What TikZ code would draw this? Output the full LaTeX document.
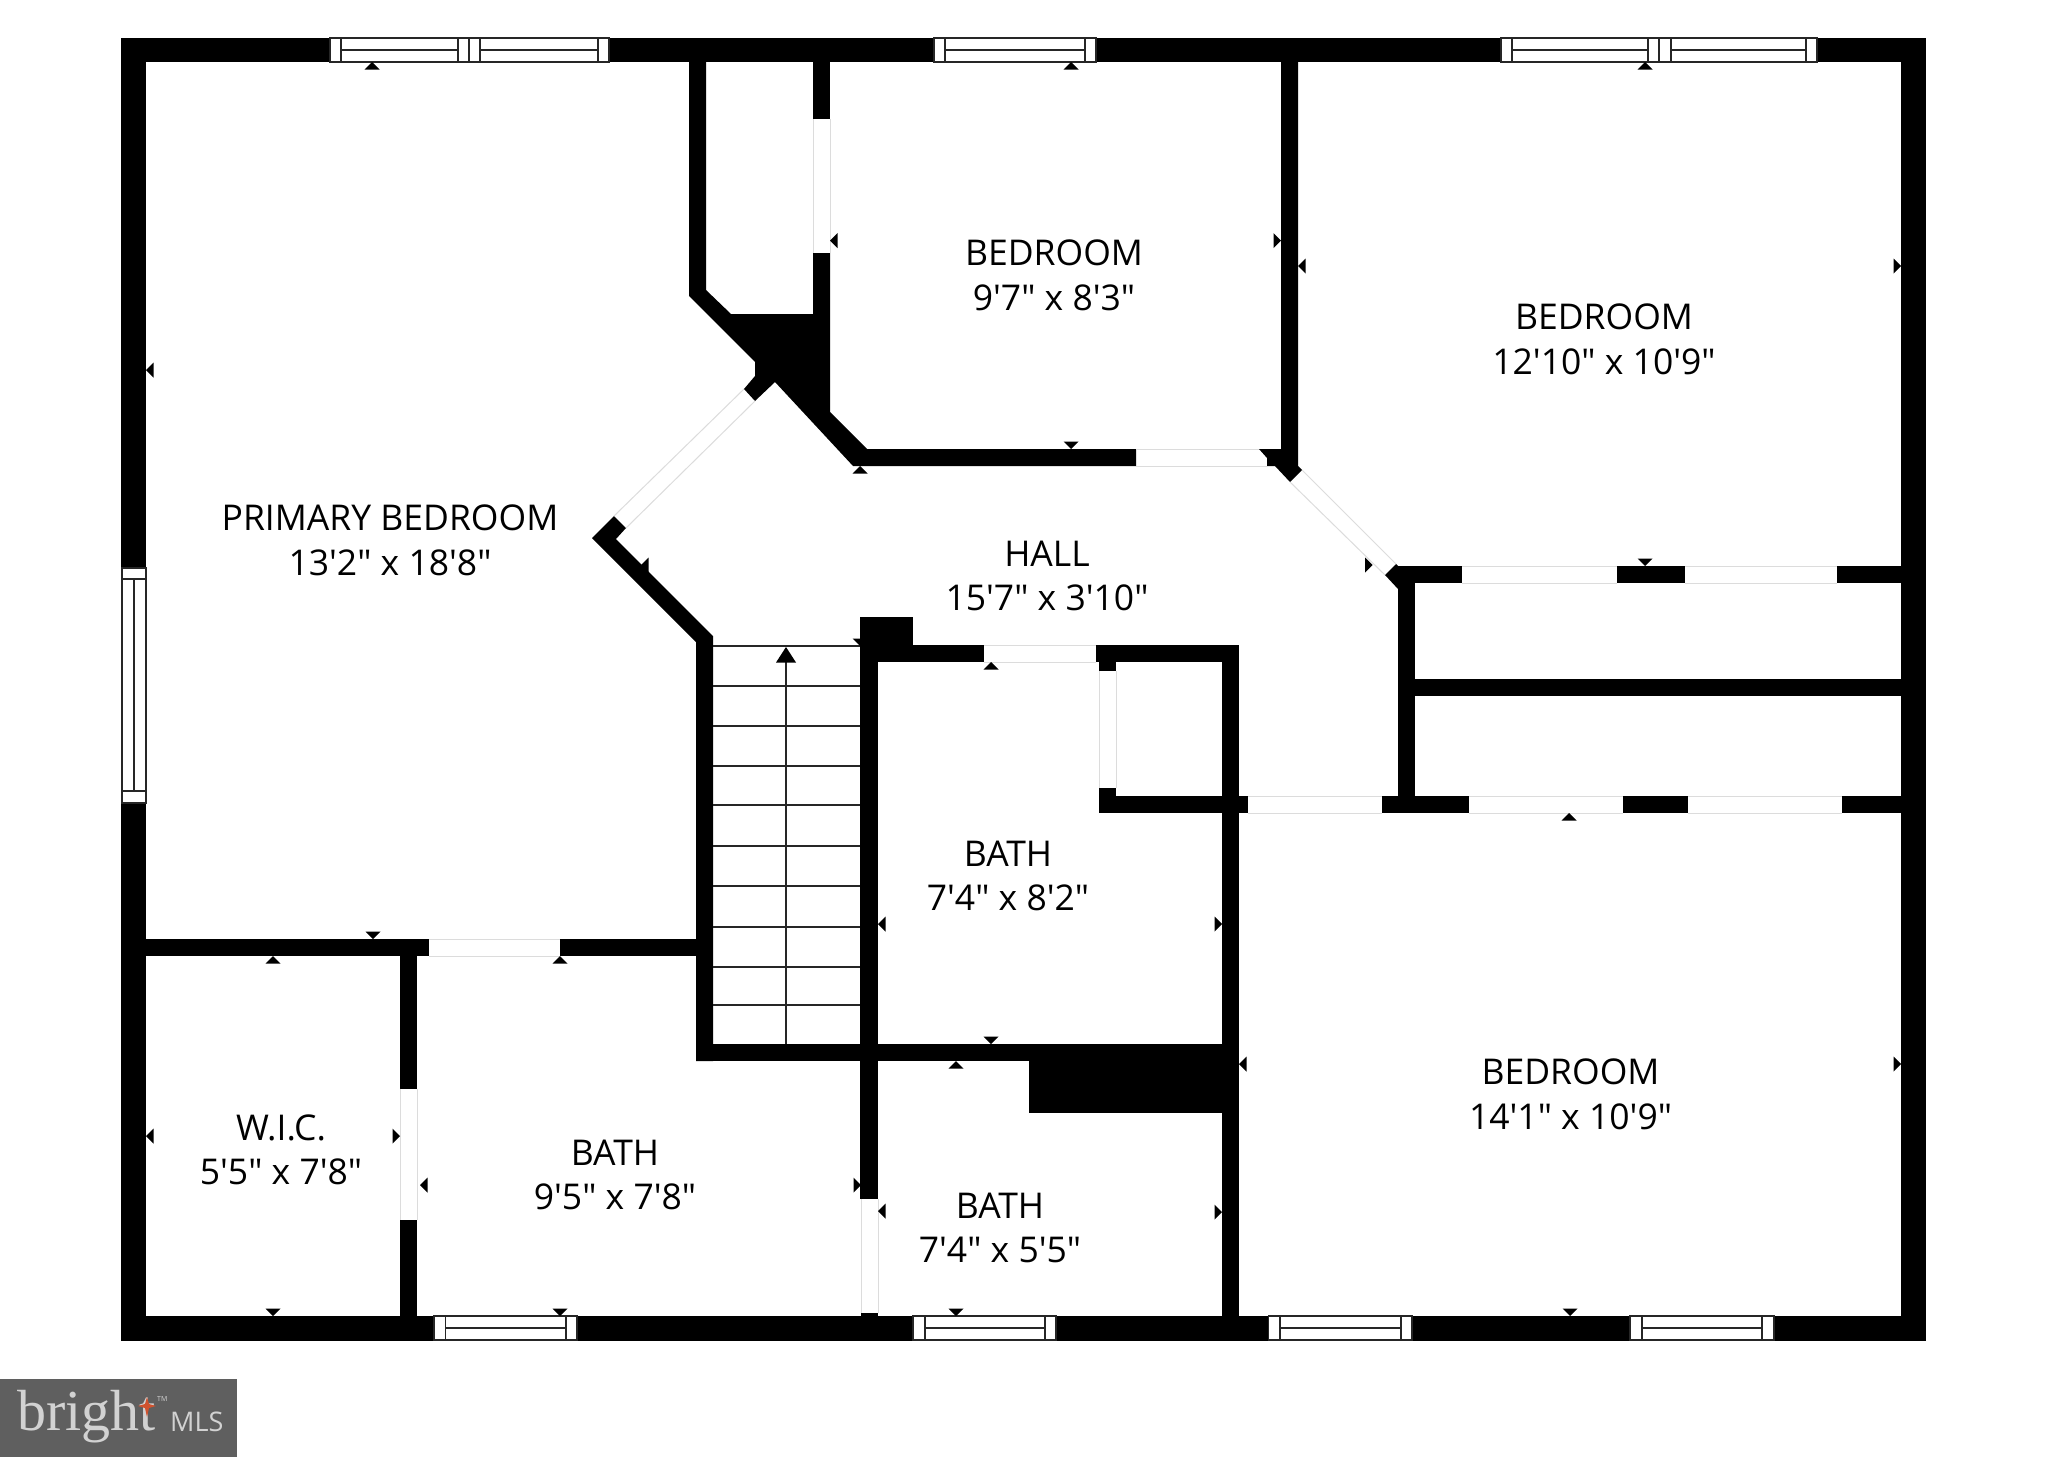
\documentclass[tikz,border=0pt]{standalone}
\usepackage{fontspec}
\newfontfamily\roomfont{Open Sans}
\newfontfamily\logoserif{Liberation Serif}
\newfontfamily\logosans{Open Sans}
\definecolor{doorline}{HTML}{DCDCDC}
\definecolor{logobg}{HTML}{5F5F5F}
\definecolor{logotext}{HTML}{D2D2D2}
\definecolor{logostar}{HTML}{D0522E}
\tikzset{
  wall/.style={fill=black,draw=none},
  doorgap/.style={draw=doorline,line width=1pt},
  winframe/.style={fill=white,draw=black!85,line width=1.5pt},
  winbar/.style={draw=black!85,line width=1.5pt},
  tread/.style={draw=black!85,line width=1.5pt},
  room/.style={font=\roomfont\fontsize{35.5}{44.6}\selectfont,align=center,inner sep=0pt,text=black},
}
\newcommand{\winH}[6]{% x1 s1 s2 x2 ytop ybottom
  \draw[winframe] (#1,#5) rectangle (#4,#6);
  \draw[winbar] (#2,#5) -- (#2,#6) (#3,#5) -- (#3,#6) (#2,{(#5+#6)/2}) -- (#3,{(#5+#6)/2});
}
\begin{document}
\begin{tikzpicture}[x=1pt,y=-1pt]
\useasboundingbox (0,0) rectangle (2047,1457);
\fill[white] (0,0) rectangle (2047,1457);
% outer walls
\fill[wall] (121,38) rectangle (1926,62);
\fill[wall] (121,38) rectangle (146,1341);
\fill[wall] (1901,38) rectangle (1926,1341);
\fill[wall] (121,1316) rectangle (1926,1341);
% primary / wic / bath
\fill[wall] (146,939) rectangle (429,956);
\fill[wall] (560,939) rectangle (713,956);
\fill[wall] (400,956) rectangle (417,1088.5);
\fill[wall] (400,1220) rectangle (417,1316);
% closet, chimney block and hall upper wall
\fill[wall] (689,62) -- (706,62) -- (706,290) -- (731,314) -- (813,314) -- (813,253) -- (830,253) -- (830,412) -- (867,449) -- (1136,449) -- (1136,466) -- (853,466) -- (775,382) -- (755,401) -- (744,389) -- (755,376) -- (755,362) -- (689,296) -- cycle;
\fill[wall] (813,62) rectangle (830,119);
% stair left wall with diagonal
\fill[wall] (592,538) -- (614,516) -- (626,528) -- (616,539) -- (713,636) -- (713,1061) -- (696,1061) -- (696,642) -- cycle;
% stair bottom, block
\fill[wall] (696,1044) rectangle (1222,1061);
\fill[wall] (1029,1044) rectangle (1222,1113);
% central bath walls
\fill[wall] (860,617) rectangle (878,1199);
\fill[wall] (861,1313) rectangle (878,1316);
\fill[wall] (860,617) rectangle (913,645);
\fill[wall] (860,645) rectangle (984,662);
\fill[wall] (1096,645) rectangle (1239,662);
\fill[wall] (1099,662) rectangle (1116,671);
\fill[wall] (1099,788) rectangle (1116,813);
\fill[wall] (1099,796) rectangle (1248,813);
\fill[wall] (1222,645) rectangle (1239,1341);
% closets at right
\fill[wall] (1382,796) rectangle (1469,813);
\fill[wall] (1623,796) rectangle (1688,813);
\fill[wall] (1842,796) rectangle (1901,813);
\fill[wall] (1398,566) rectangle (1415,813);
\fill[wall] (1398,566) rectangle (1462,583);
\fill[wall] (1617,566) rectangle (1685,583);
\fill[wall] (1837,566) rectangle (1901,583);
\fill[wall] (1398,679) rectangle (1901,696);
\fill[wall] (1396,564) -- (1398,566) -- (1398,589) -- (1385,575) -- cycle;
% bedroom dividing wall with foot
\fill[wall] (1281,62) -- (1298,62) -- (1298,466) -- (1302,470) -- (1290,482) -- (1275,466) -- (1267,466) -- (1267,458) -- (1259,449) -- (1281,449) -- cycle;
% door openings
\draw[doorgap] (429,939) -- (560,939) (429,956) -- (560,956);
\draw[doorgap] (400,1088.5) -- (400,1220) (417,1088.5) -- (417,1220);
\draw[doorgap] (861,1199) -- (861,1313) (878,1199) -- (878,1313);
\draw[doorgap] (984,645) -- (1096,645) (984,662) -- (1096,662);
\draw[doorgap] (1099,671) -- (1099,788) (1116,671) -- (1116,788);
\draw[doorgap] (1248,796) -- (1382,796) (1248,813) -- (1382,813);
\draw[doorgap] (1469,796) -- (1623,796) (1469,813) -- (1623,813);
\draw[doorgap] (1688,796) -- (1842,796) (1688,813) -- (1842,813);
\draw[doorgap] (1462,566) -- (1617,566) (1462,583) -- (1617,583);
\draw[doorgap] (1685,566) -- (1837,566) (1685,583) -- (1837,583);
\draw[doorgap] (813,119) -- (813,253) (830,119) -- (830,253);
\draw[doorgap] (1136,449) -- (1259,449) (1136,466) -- (1267,466);
\draw[doorgap] (744,389) -- (614,516) (755,401) -- (626,528);
\draw[doorgap] (1290,482) -- (1385,575) (1302,470) -- (1396,564);
% windows
\winH{330}{341}{458}{469}{38}{62}
\winH{469}{480}{598}{609}{38}{62}
\winH{934}{945}{1085}{1096}{38}{62}
\winH{1501}{1512}{1648}{1659}{38}{62}
\winH{1659}{1671}{1806}{1817}{38}{62}
\winH{434}{445.5}{566}{577}{1316}{1340}
\winH{913}{925}{1045}{1056}{1316}{1340}
\winH{1268.6}{1280}{1401}{1412}{1316}{1340}
\winH{1630}{1642}{1762}{1774}{1316}{1340}
\draw[winframe] (122,568) rectangle (146,803);
\draw[winbar] (122,579) -- (146,579) (122,791) -- (146,791) (134,579) -- (134,791);
% stairs
\foreach \yy in {646,686,726,766,805,846,886,927,967,1005}
  \draw[tread] (713,\yy) -- (860,\yy);
\draw[tread] (786,655) -- (786,1044);
\fill[wall] (786,647) -- (776,662.5) -- (796,662.5) -- cycle;
% dimension ticks
\foreach \xx/\yy in {372/62,1071/62,1645/62,860/466,991/662,273/956,560/956,956/1061,1569/813}
  \fill[wall] (\xx,\yy) -- (\xx-7.5,\yy+7.5) -- (\xx+7.5,\yy+7.5) -- cycle;
\foreach \xx/\yy in {1071/449,1645/566,373/939,273/1316,560/1316,991/1044,956/1316,1570/1316,860/646}
  \fill[wall] (\xx,\yy) -- (\xx-7.5,\yy-7.5) -- (\xx+7.5,\yy-7.5) -- cycle;
\foreach \xx/\yy in {146/370,146/1136,420/1185,830/240.6,1298/266,878/924,878/1211,1239/1064,641/565}
  \fill[wall] (\xx,\yy) -- (\xx+7.5,\yy-7.5) -- (\xx+7.5,\yy+7.5) -- cycle;
\foreach \xx/\yy in {1281/240.6,1901/266,400/1136,1222/924,861/1185,1222/1212,1901/1064,1372.6/565}
  \fill[wall] (\xx,\yy) -- (\xx-7.5,\yy-7.5) -- (\xx-7.5,\yy+7.5) -- cycle;
% room labels
\node[room] (primary) at (390,540) {PRIMARY BEDROOM\\13'2" x 18'8"};
\node[room] (bedA) at (1054,275.5) {BEDROOM\\9'7" x 8'3"};
\node[room] (bedB) at (1604,339) {BEDROOM\\12'10" x 10'9"};
\node[room] (hall) at (1047,576) {HALL\\15'7" x 3'10"};
\node[room] (bathA) at (1008,876) {BATH\\7'4" x 8'2"};
\node[room] (bedC) at (1570.5,1094) {BEDROOM\\14'1" x 10'9"};
\node[room] (wic) at (281,1150) {W.I.C.\\5'5" x 7'8"};
\node[room] (bathB) at (615,1175) {BATH\\9'5" x 7'8"};
\node[room] (bathC) at (1000,1228) {BATH\\7'4" x 5'5"};
% logo
\fill[logobg] (0,1379) rectangle (237,1457);
\node[anchor=base west,inner sep=0pt,text=logotext,font=\logoserif\fontsize{58}{58}\selectfont] (brand) at (17,1430) {bright};
\fill[logostar] (147,1397) -- (149,1404) -- (156,1406) -- (149,1408) -- (147,1417) -- (145,1408) -- (138,1406) -- (145,1404) -- cycle;
\node[anchor=base west,inner sep=0pt,text=logotext,font=\logosans\fontsize{7}{7}\selectfont] (tm) at (157,1401) {TM};
\node[anchor=base west,inner sep=0pt,text=logotext,font=\logosans\fontsize{27}{27}\selectfont] (mls) at (170,1431) {MLS};
\end{tikzpicture}
\end{document}
